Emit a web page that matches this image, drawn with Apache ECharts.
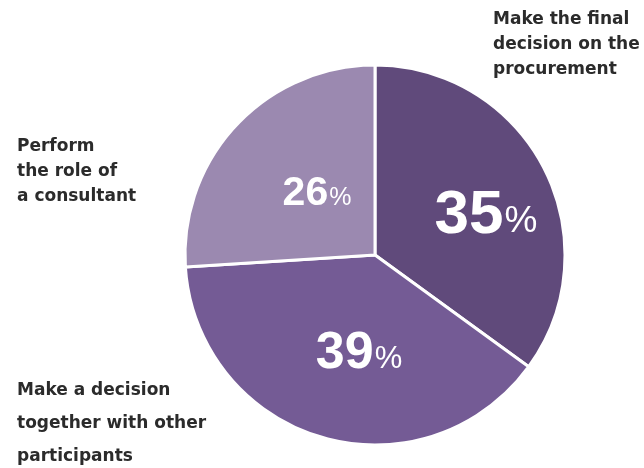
<!DOCTYPE html>
<html><head><meta charset="utf-8">
<script src="https://cdn.jsdelivr.net/npm/echarts@6/dist/echarts.min.js"></script>
<style>html,body{margin:0;padding:0;background:#fff}#c{width:644px;height:468px}</style>
</head><body><div id="c"></div>
<script>
var categories = ['Make the final\ndecision on the\nprocurement', 'Make a decision\ntogether with other\nparticipants', 'Perform\nthe role of\na consultant'];
var values = [35, 39, 26];
var colors = ['#604a7b', '#745b95', '#9b89b0'];
var pctSizes = [62, 52, 41];
var pctPos = [[486, 216], [359, 354], [317, 194]];
var namePos = [[493, 45, 25], [17, 424, 33], [17, 172, 25]];

var chart = echarts.init(document.getElementById('c'));
var numFont = '"Liberation Sans",Arial,sans-serif';
var pieData = values.map(function (v, i) {
  return {
    value: v, name: categories[i],
    itemStyle: { color: colors[i] },
    label: {
      rich: {
        n: { fontSize: pctSizes[i], fontWeight: 'bold', color: '#fff', fontFamily: numFont },
        p: { fontSize: Math.round(pctSizes[i] * 0.6), color: '#fff', fontFamily: numFont, padding: [Math.round(pctSizes[i] * 0.2), 0, 0, 1] }
      }
    }
  };
});
var nameData = values.map(function (v, i) {
  return { value: v, name: categories[i], label: { lineHeight: namePos[i][2] } };
});
chart.setOption({
  animation: false,
  backgroundColor: '#fff',
  series: [{
    type: 'pie', center: [375, 255], radius: [0, 190], startAngle: 90,
    itemStyle: { borderColor: '#fff', borderWidth: 3 },
    label: { show: true, position: 'inside', formatter: function (p) { return '{n|' + p.value + '}{p|%}'; } },
    labelLayout: function (p) { var q = pctPos[p.dataIndex]; return { x: q[0], y: q[1], align: 'center', verticalAlign: 'middle' }; },
    emphasis: { disabled: true },
    data: pieData
  }, {
    type: 'pie', center: [375, 255], radius: [0, 190], startAngle: 90, silent: true,
    itemStyle: { color: 'rgba(0,0,0,0)', borderWidth: 0 },
    label: { show: true, position: 'outside', formatter: '{b}', color: '#2b2b2b', fontSize: 17, fontWeight: 'bold', fontFamily: '"DejaVu Sans",sans-serif', overflow: 'none', width: 200 },
    labelLine: { show: false },
    labelLayout: function (p) { var q = namePos[p.dataIndex]; return { x: q[0], y: q[1], align: 'left', verticalAlign: 'middle' }; },
    emphasis: { disabled: true },
    data: nameData
  }]
});
</script></body></html>
